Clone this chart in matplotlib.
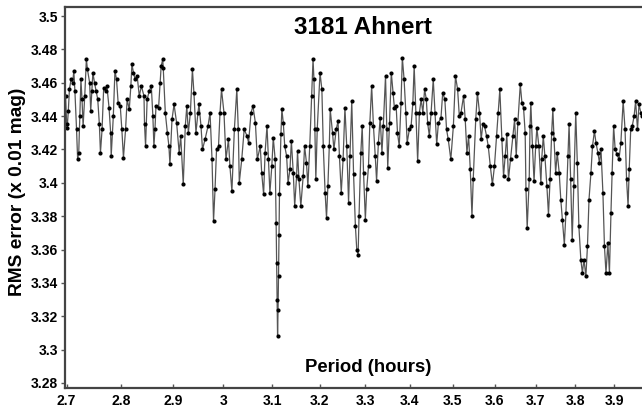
import matplotlib
matplotlib.use("Agg")
import matplotlib.pyplot as plt
from matplotlib.ticker import NullLocator, FixedLocator

# period scan: trial period (hours) and RMS of the fit (x 0.01 mag)
period = [
    2.698, 2.700, 2.701, 2.703, 2.705, 2.708, 2.711, 2.713, 2.715, 2.718,
    2.720, 2.722, 2.724, 2.726, 2.728, 2.730, 2.733, 2.736, 2.738, 2.742,
    2.744, 2.746, 2.748, 2.751, 2.754, 2.757, 2.760, 2.762, 2.765, 2.768,
    2.772, 2.774, 2.778, 2.781, 2.782, 2.786, 2.789, 2.792, 2.795, 2.799,
    2.802, 2.805, 2.809, 2.812, 2.816, 2.819, 2.821, 2.824, 2.827, 2.831,
    2.835, 2.839, 2.844, 2.845, 2.847, 2.850, 2.854, 2.858, 2.861, 2.863,
    2.865, 2.867, 2.872, 2.875, 2.877,
    2.880, 2.881, 2.885, 2.889, 2.892, 2.894, 2.898, 2.902, 2.907, 2.912,
    2.915, 2.920, 2.924, 2.927, 2.930, 2.934, 2.938, 2.941, 2.945, 2.949,
    2.951, 2.955, 2.958, 2.963, 2.969, 2.973, 2.977, 2.980, 2.983, 2.986,
    2.990, 2.993, 2.996, 3.001, 3.005, 3.010, 3.013, 3.017, 3.022, 3.027,
    3.030, 3.032, 3.037, 3.042, 3.048, 3.051, 3.056, 3.060, 3.065, 3.069,
    3.075, 3.078, 3.082, 3.085, 3.089, 3.092, 3.095, 3.099, 3.102, 3.106,
    3.108, 3.109, 3.110, 3.111, 3.112, 3.113, 3.114, 3.115, 3.118, 3.120,
    3.123, 3.126, 3.130, 3.133, 3.137, 3.140, 3.144, 3.147, 3.151, 3.153,
    3.156, 3.160, 3.165, 3.168, 3.172, 3.175, 3.179, 3.183, 3.186, 3.188,
    3.190, 3.192, 3.195, 3.201, 3.205, 3.208, 3.212, 3.215, 3.218, 3.221,
    3.223, 3.228, 3.231, 3.236, 3.240, 3.243, 3.247, 3.251, 3.255, 3.259,
    3.263, 3.266, 3.270, 3.274, 3.278, 3.281, 3.284, 3.286, 3.290, 3.293,
    3.296, 3.300, 3.303, 3.307, 3.310, 3.314, 3.318, 3.322, 3.325, 3.329,
    3.333, 3.337, 3.340, 3.345, 3.348, 3.350, 3.354, 3.358, 3.362, 3.365,
    3.369, 3.372, 3.376, 3.380, 3.383, 3.387, 3.391, 3.394, 3.399, 3.403,
    3.407, 3.410, 3.414, 3.418, 3.422, 3.426, 3.430, 3.434, 3.438, 3.441,
    3.445, 3.449, 3.454, 3.458, 3.462, 3.466, 3.472, 3.476, 3.481, 3.485,
    3.489, 3.495, 3.501, 3.506, 3.511, 3.515, 3.519, 3.525, 3.529, 3.533,
    3.537, 3.541, 3.545, 3.548, 3.554, 3.558, 3.563, 3.567, 3.571, 3.575,
    3.580, 3.584, 3.589, 3.594, 3.599, 3.604, 3.608, 3.612, 3.617, 3.621,
    3.625, 3.629, 3.633, 3.638, 3.644, 3.648, 3.652, 3.656, 3.662, 3.666,
    3.670, 3.674, 3.676, 3.679, 3.684, 3.686, 3.688, 3.692, 3.696, 3.700,
    3.703, 3.708, 3.713, 3.715, 3.719, 3.723, 3.728, 3.732, 3.736, 3.740,
    3.743, 3.746, 3.750, 3.754, 3.759, 3.763, 3.767, 3.772, 3.776, 3.781,
    3.784, 3.788, 3.792, 3.796, 3.801, 3.805, 3.809, 3.814, 3.818, 3.822,
    3.827, 3.831, 3.835, 3.840, 3.844, 3.849, 3.853, 3.858, 3.862, 3.866,
    3.871, 3.875, 3.879, 3.884, 3.888, 3.892, 3.895, 3.899, 3.903, 3.908,
    3.913, 3.918, 3.924, 3.929, 3.933, 3.937, 3.940, 3.944, 3.948, 3.953,
    3.957, 3.962, 3.966, 3.971, 3.975,
]
rms = [
    3.452, 3.435, 3.433, 3.443, 3.456, 3.462, 3.460, 3.467, 3.455, 3.432,
    3.414, 3.418, 3.440, 3.462, 3.450, 3.434, 3.452, 3.474, 3.468, 3.460,
    3.443, 3.455, 3.466, 3.460, 3.455, 3.450, 3.435, 3.418, 3.432, 3.457,
    3.455, 3.458, 3.445, 3.430, 3.416, 3.440, 3.467, 3.462, 3.448, 3.446,
    3.432, 3.415, 3.432, 3.450, 3.444, 3.458, 3.471, 3.466, 3.462, 3.464,
    3.452, 3.458, 3.452, 3.435, 3.422, 3.450, 3.455, 3.458, 3.440, 3.422,
    3.432, 3.446, 3.445, 3.460, 3.470,
    3.474, 3.469, 3.442, 3.430, 3.422, 3.411, 3.438, 3.447, 3.436, 3.418,
    3.428, 3.399, 3.434, 3.446, 3.430, 3.442, 3.468, 3.454, 3.430, 3.442,
    3.447, 3.434, 3.420, 3.426, 3.434, 3.442, 3.414, 3.377, 3.396, 3.420,
    3.422, 3.442, 3.456, 3.442, 3.414, 3.426, 3.410, 3.395, 3.432, 3.456,
    3.432, 3.400, 3.414, 3.432, 3.428, 3.424, 3.442, 3.446, 3.436, 3.414,
    3.422, 3.406, 3.393, 3.418, 3.434, 3.414, 3.394, 3.410, 3.427, 3.414,
    3.376, 3.352, 3.330, 3.308, 3.324, 3.344, 3.369, 3.393, 3.429, 3.444,
    3.436, 3.422, 3.416, 3.400, 3.408, 3.425, 3.406, 3.386, 3.404, 3.419,
    3.402, 3.386, 3.404, 3.422, 3.412, 3.398, 3.422, 3.452, 3.474, 3.462,
    3.432, 3.402, 3.432, 3.466, 3.456, 3.422, 3.394, 3.379, 3.398, 3.422,
    3.444, 3.430, 3.420, 3.432, 3.437, 3.416, 3.394, 3.414, 3.445, 3.422,
    3.388, 3.416, 3.449, 3.405, 3.374, 3.360, 3.357, 3.380, 3.418, 3.434,
    3.406, 3.378, 3.396, 3.410, 3.436, 3.458, 3.434, 3.416, 3.401, 3.424,
    3.439, 3.418, 3.434, 3.464, 3.432, 3.409, 3.436, 3.466, 3.454, 3.445,
    3.446, 3.430, 3.422, 3.448, 3.475, 3.462, 3.442, 3.424, 3.432, 3.434,
    3.448, 3.470, 3.442, 3.413, 3.442, 3.450, 3.442, 3.456, 3.450, 3.436,
    3.428, 3.442, 3.462, 3.442, 3.423, 3.436, 3.439, 3.454, 3.450, 3.432,
    3.426, 3.414, 3.434, 3.464, 3.456, 3.440, 3.442, 3.452, 3.438, 3.418,
    3.428, 3.408, 3.380, 3.402, 3.438, 3.454, 3.442, 3.426, 3.435, 3.434,
    3.428, 3.422, 3.410, 3.399, 3.410, 3.428, 3.442, 3.456, 3.426, 3.404,
    3.416, 3.429, 3.402, 3.414, 3.428, 3.438, 3.416, 3.436, 3.459, 3.448,
    3.445, 3.430, 3.396, 3.373, 3.402, 3.434, 3.448, 3.422, 3.401, 3.422,
    3.433, 3.422, 3.400, 3.414, 3.428, 3.416, 3.398, 3.381, 3.402, 3.430,
    3.444, 3.426, 3.406, 3.418, 3.406, 3.390, 3.378, 3.363, 3.382, 3.416,
    3.435, 3.402, 3.366, 3.398, 3.442, 3.412, 3.374, 3.354, 3.346, 3.354,
    3.344, 3.362, 3.390, 3.406, 3.422, 3.431, 3.424, 3.418, 3.412, 3.420,
    3.394, 3.362, 3.346, 3.364, 3.346, 3.382, 3.406, 3.434, 3.420, 3.417,
    3.414, 3.424, 3.449, 3.432, 3.402, 3.386, 3.408, 3.432, 3.434, 3.440,
    3.449, 3.432, 3.447, 3.442, 3.440,
]

xticks = [2.7, 2.8, 2.9, 3.0, 3.1, 3.2, 3.3, 3.4, 3.5, 3.6, 3.7, 3.8, 3.9]
xlabels = ["2.7", "2.8", "2.9", "3", "3.1", "3.2", "3.3", "3.4", "3.5",
           "3.6", "3.7", "3.8", "3.9"]
yticks = [3.28, 3.30, 3.32, 3.34, 3.36, 3.38, 3.40, 3.42, 3.44, 3.46, 3.48, 3.50]
ylabels = ["3.28", "3.3", "3.32", "3.34", "3.36", "3.38", "3.4", "3.42",
           "3.44", "3.46", "3.48", "3.5"]

plt.rcParams["font.family"] = ["Liberation Sans", "DejaVu Sans"]
plt.rcParams["font.weight"] = "bold"

fig = plt.figure(figsize=(6.42, 4.11), dpi=100)
ax = fig.add_axes([65 / 642, 1 - 388 / 411, 1.0 - 65 / 642, (388 - 7) / 411])

ax.plot(period, rms, color="#555555", lw=0.9, zorder=1)
ax.plot(period, rms, ls="none", marker="o", ms=3.0, color="black",
        mec="black", mew=0, zorder=2)

ax.set_xscale("log")
ax.set_xlim(2.697, 3.974)
ax.set_ylim(3.277, 3.5054)
ax.xaxis.set_major_locator(FixedLocator(xticks))
ax.xaxis.set_minor_locator(NullLocator())
ax.set_xticklabels(xlabels)
ax.set_yticks(yticks)
ax.set_yticklabels(ylabels)

for s in ["left", "bottom", "top"]:
    ax.spines[s].set_color("#444444")
    ax.spines[s].set_linewidth(1.6)
ax.spines["right"].set_visible(False)

ax.tick_params(axis="x", direction="in", length=3, width=1, color="#555555",
               labelsize=10, pad=4)
ax.tick_params(axis="y", direction="out", length=3, width=1, color="#555555",
               labelsize=10, pad=2)
for lab in ax.get_xticklabels() + ax.get_yticklabels():
    lab.set_fontweight("bold")

fig.text(363 / 642, 1 - 27 / 411, "3181 Ahnert", ha="center", va="center",
         fontsize=17.5, fontweight="bold")
fig.text(368 / 642, 1 - 367 / 411, "Period (hours)", ha="center", va="center",
         fontsize=13.3, fontweight="bold")
fig.text(18 / 642, 1 - 192 / 411, "RMS error (x 0.01 mag)", ha="center",
         va="center", rotation=90, fontsize=13.8, fontweight="bold")

fig.savefig("out.png", dpi=100)
